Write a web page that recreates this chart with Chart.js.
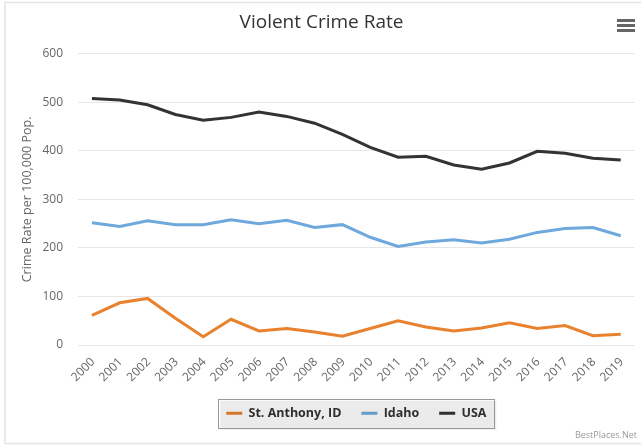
<!DOCTYPE html>
<html>
<head>
<meta charset="utf-8">
<script src="https://cdn.jsdelivr.net/npm/chart.js@4/dist/chart.umd.min.js"></script>
<style>
html,body{margin:0;padding:0;background:#fff;}
#wrap{width:641px;height:446px;position:relative;}
</style>
</head>
<body>
<div id="wrap"><canvas id="c" width="641" height="446"></canvas></div>
<script>
const years = ['2000','2001','2002','2003','2004','2005','2006','2007','2008','2009','2010','2011','2012','2013','2014','2015','2016','2017','2018','2019'];
const stAnthony = [61,87,96,55,17,53,29,34,27,18,34,50,37,29,35,46,34,40,19,22];
const idaho = [252,244,256,248,248,258,250,257,242,248,222,203,212,217,210,218,232,240,242,225];
const usa = [508,505,495,475,463,469,480,471,457,434,407,387,389,371,362,375,399,395,385,381];
const yTicks = [0,100,200,300,400,500,600];

const FONT = '"Open Sans", "Liberation Sans", sans-serif';

const decor = {
  id: 'decor',
  beforeDraw(chart) {
    const ctx = chart.ctx;
    ctx.save();
    ctx.fillStyle = '#fff';
    ctx.fillRect(0, 0, chart.width, chart.height);
    ctx.strokeStyle = '#e4e4e4';
    ctx.lineWidth = 1.5;
    ctx.strokeRect(5, 2.5, chart.width + 10, 441);
    ctx.restore();
  },
  afterDraw(chart) {
    const ctx = chart.ctx;
    ctx.save();
    const lg = chart.legend;
    if (lg && lg.legendHitBoxes && lg.legendHitBoxes.length) {
      const hb = lg.legendHitBoxes;
      let l = Infinity, r = -Infinity, t = Infinity, b = -Infinity;
      hb.forEach(h => { l = Math.min(l, h.left); r = Math.max(r, h.left + h.width); t = Math.min(t, h.top); b = Math.max(b, h.top + h.height); });
      const x0 = l - 8, x1 = r + 8, y0 = (t + b) / 2 - 14.5, y1 = (t + b) / 2 + 14.5;
      ctx.fillStyle = 'rgba(0,0,0,0.08)';
      ctx.fillRect(x0 + 2, y0 + 2, x1 - x0, y1 - y0);
      ctx.strokeStyle = '#999';
      ctx.lineWidth = 1;
      ctx.strokeRect(Math.round(x0) + 0.5, Math.round(y0) + 0.5, Math.round(x1 - x0), Math.round(y1 - y0));
    }
    ctx.fillStyle = '#666';
    [19, 24, 29].forEach(y => ctx.fillRect(617, y, 18, 3));
    ctx.fillStyle = '#999';
    ctx.font = '9px ' + FONT;
    ctx.textAlign = 'right';
    ctx.textBaseline = 'middle';
    ctx.fillText('BestPlaces.Net', 637, 435);
    ctx.restore();
  }
};

new Chart(document.getElementById('c'), {
  type: 'line',
  data: {
    labels: years,
    datasets: [
      { label: 'St. Anthony, ID', data: stAnthony, borderColor: '#E8822F', backgroundColor: '#E8822F', borderWidth: 3, pointRadius: 0, tension: 0 },
      { label: 'Idaho', data: idaho, borderColor: '#6FA8DC', backgroundColor: '#6FA8DC', borderWidth: 3, pointRadius: 0, tension: 0 },
      { label: 'USA', data: usa, borderColor: '#333333', backgroundColor: '#333333', borderWidth: 3, pointRadius: 0, tension: 0 }
    ]
  },
  options: {
    responsive: false,
    animation: false,
    devicePixelRatio: 1,
    layout: { padding: { left: 5, right: 3, top: 0, bottom: 16.5 } },
    plugins: {
      title: { display: true, text: 'Violent Crime Rate', color: '#333', font: { family: FONT, size: 19, weight: 'normal' }, padding: { top: 11, bottom: 20 } },
      legend: {
        position: 'bottom',
        fullSize: false,
        labels: { color: '#333', font: { family: FONT, size: 12.5, weight: 'bold' }, usePointStyle: true, pointStyle: 'line', pointStyleWidth: 16, boxHeight: 12.5, padding: 20 }
      },
      tooltip: { enabled: false }
    },
    scales: {
      x: {
        offset: true,
        grid: { display: false, drawTicks: false },
        border: { display: false },
        ticks: { color: '#666', font: { family: FONT, size: 12 }, minRotation: 45, maxRotation: 45, autoSkip: false, padding: 10, labelOffset: 1 },
        afterFit(s) { s.height = 42; }
      },
      y: {
        min: 0, max: 600,
        afterBuildTicks(s) { s.ticks = yTicks.map(v => ({ value: v })); },
        grid: { color: '#e6e6e6', drawTicks: false },
        border: { display: false },
        ticks: { color: '#666', font: { family: FONT, size: 12 }, padding: 15 },
        title: { display: true, text: 'Crime Rate per 100,000 Pop.', color: '#666', font: { family: FONT, size: 12.5 }, padding: { top: 15, bottom: 3 } },
        afterFit(s) { s.width = 73; }
      }
    }
  },
  plugins: [decor]
});
</script>
</body>
</html>
